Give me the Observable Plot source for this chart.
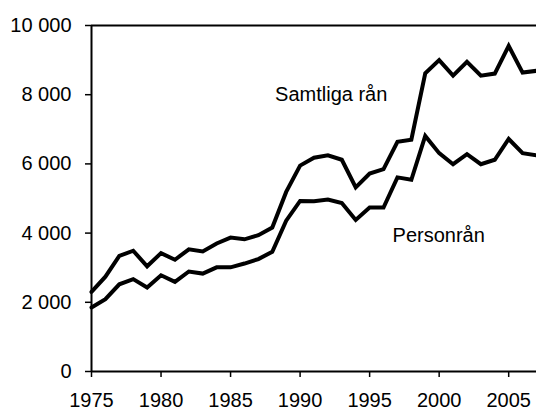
<!DOCTYPE html>
<html>
<head>
<meta charset="utf-8">
<script src="https://cdn.jsdelivr.net/npm/d3@7"></script>
<script src="https://cdn.jsdelivr.net/npm/@observablehq/plot@0.6"></script>
<style>
  html, body { margin: 0; padding: 0; background: #fff; }
  #chart { width: 536px; height: 410px; overflow: hidden; }
</style>
</head>
<body>
<div id="chart"></div>
<script>
const years = d3.range(1975, 2008);
const samtliga = [2300, 2740, 3340, 3490, 3040, 3420, 3230, 3530, 3470, 3700, 3870, 3820, 3940, 4160, 5190, 5950, 6180, 6250, 6120, 5320, 5720, 5850, 6640, 6700, 8620, 9000, 8550, 8950, 8550, 8610, 9410, 8640, 8690];
const personran = [1850, 2090, 2520, 2670, 2430, 2780, 2590, 2890, 2830, 3010, 3010, 3120, 3250, 3460, 4360, 4930, 4920, 4970, 4870, 4380, 4740, 4740, 5610, 5540, 6810, 6310, 5990, 6280, 5990, 6120, 6720, 6310, 6250];
const xTicks = [1975, 1980, 1985, 1990, 1995, 2000, 2005];
const yTicks = [0, 2000, 4000, 6000, 8000, 10000];
const seriesNames = ["Samtliga rån", "Personrån"];
const labelYears = [1988.2, 1996.65];
const labelValues = [7990, 3930];

const rows = [];
years.forEach((y, i) => {
  rows.push({year: y, value: samtliga[i], series: seriesNames[0]});
  rows.push({year: y, value: personran[i], series: seriesNames[1]});
});
const labels = seriesNames.map((s, i) => ({name: s, year: labelYears[i], value: labelValues[i]}));
const fmt = d => d3.format(",")(d).replace(/,/g, " ");

const chart = Plot.plot({
  width: 536,
  height: 410,
  marginLeft: 91,
  marginRight: 0,
  marginTop: 25,
  marginBottom: 39,
  style: {fontSize: "20px", fontFamily: "'Liberation Sans', Arial, sans-serif", color: "#000", background: "#fff", overflow: "visible"},
  x: {domain: [1975, 2007]},
  y: {domain: [0, 10000]},
  marks: [
    Plot.axisX({ticks: xTicks, tickFormat: d => String(d), tickSize: 6, tickPadding: 15, label: null, strokeWidth: 1.5}),
    Plot.axisY({ticks: yTicks, tickFormat: fmt, tickSize: 6, tickPadding: 14, label: null, strokeWidth: 1.5}),
    Plot.ruleY([0, 10000], {strokeWidth: 2, stroke: "#000"}),
    Plot.ruleX([1975], {strokeWidth: 2, stroke: "#000"}),
    Plot.line(rows, {x: "year", y: "value", z: "series", stroke: "#000", strokeWidth: 4, strokeLinejoin: "miter", strokeMiterlimit: 4}),
    Plot.text(labels, {x: "year", y: "value", text: "name", textAnchor: "start", fill: "#000", fontSize: 20})
  ]
});
document.getElementById("chart").appendChild(chart);
</script>
</body>
</html>
